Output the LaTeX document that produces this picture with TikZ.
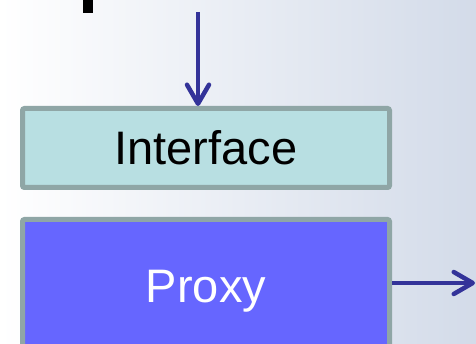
\documentclass[tikz,border=0pt]{standalone}
\usepackage{fontspec}
\setmainfont{Liberation Sans}
\usetikzlibrary{arrows.meta}
\definecolor{arrowblue}{RGB}{51,51,153}
\definecolor{edgegray}{RGB}{143,166,166}
\definecolor{ifacefill}{RGB}{184,223,226}
\definecolor{proxyfill}{RGB}{102,102,255}
\definecolor{bgmid}{RGB}{238,241,247}
\definecolor{bgright}{RGB}{211,219,233}

\begin{document}
\begin{tikzpicture}[
x=1pt, y=-1pt,
blockbox/.style={rectangle, draw=edgegray, line width=5pt, rounded corners=2pt,
  minimum width=367pt, font=\fontsize{47}{47}\selectfont, inner sep=0pt},
flowarrow/.style={draw=arrowblue, line width=4.5pt,
  -{Straight Barb[length=19pt,width=22pt,line cap=round,line join=round]}},
]
\useasboundingbox (0,0) rectangle (476,344);
\shade[left color=white, middle color=bgmid, right color=bgright] (0,0) rectangle (476,344);
\fill[black] (83,0) rectangle (93,13);

\node[blockbox, fill=ifacefill, minimum height=79pt] (interface) at (206,148) {Interface};
\node[blockbox, fill=proxyfill, text=white, minimum height=143pt] (proxy) at (206,291) {Proxy};

\coordinate (top) at (198,12);
\coordinate (out) at (475,283);
\draw[flowarrow] (top) -- (top |- interface.north);
\draw[flowarrow] (proxy.east |- out) -- (out);
\end{tikzpicture}
\end{document}
